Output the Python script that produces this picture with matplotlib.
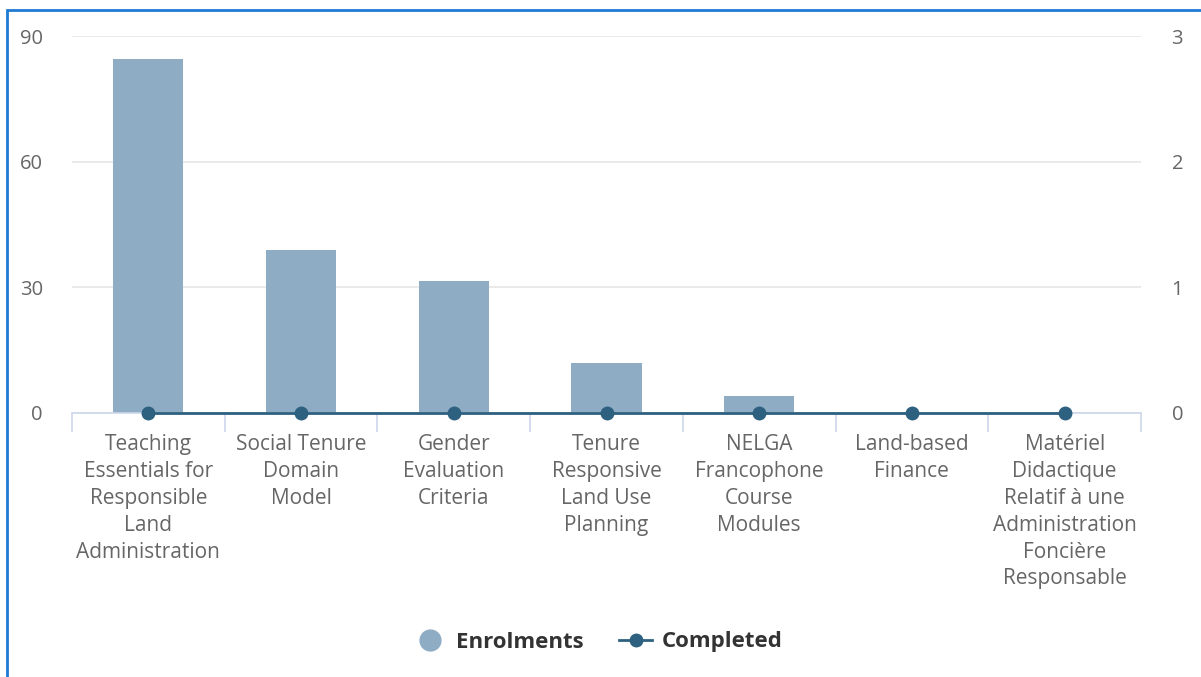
import numpy as np
import matplotlib.pyplot as plt
from matplotlib.lines import Line2D
from matplotlib.patches import Rectangle

# data
courses = ["Teaching\nEssentials for\nResponsible\nLand\nAdministration",
           "Social Tenure\nDomain\nModel",
           "Gender\nEvaluation\nCriteria",
           "Tenure\nResponsive\nLand Use\nPlanning",
           "NELGA\nFrancophone\nCourse\nModules",
           "Land-based\nFinance",
           "Matériel\nDidactique\nRelatif à une\nAdministration\nFoncière\nResponsable"]
enrolments = [84.5, 39, 31.5, 12, 4, 0, 0]
completed = [0, 0, 0, 0, 0, 0, 0]
left_ticks = [0, 30, 60, 90]
right_ticks = [0, 1, 2, 3]

bar_color = "#8eacc4"
line_color = "#2e6080"
label_color = "#666666"
grid_color = "#e6e6e6"
axis_color = "#ccd6eb"

plt.rcParams['font.family'] = ['Open Sans', 'DejaVu Sans']

fig = plt.figure(figsize=(12.01, 6.77), dpi=100)
W, H = 1201, 677
ax = fig.add_axes([72 / W, (H - 413) / H, (1141 - 72) / W, (413 - 36) / H])

x = np.arange(len(courses))
ax.bar(x, enrolments, width=0.46, color=bar_color, zorder=2)
ax.set_xlim(-0.5, len(courses) - 0.5)
ax.set_ylim(0, 90)
ax.set_yticks(left_ticks)
ax.yaxis.grid(True, color=grid_color, linewidth=1.2, zorder=0)
ax.tick_params(axis='y', length=0, pad=21, labelsize=14.5, labelcolor=label_color)

for s in ['top', 'right', 'left']:
    ax.spines[s].set_visible(False)
ax.spines['bottom'].set_color(axis_color)
ax.spines['bottom'].set_linewidth(1.2)

# category boundaries as ticks, labels at centres
ax.set_xticks(np.arange(len(courses) + 1) - 0.5)
ax.set_xticklabels([])
ax.tick_params(axis='x', which='major', length=14, color=axis_color, width=1.2)
ax.set_xticks(x, minor=True)
ax.set_xticklabels(courses, minor=True, fontsize=15, color=label_color, linespacing=1.37,
                   va='top')
ax.tick_params(axis='x', which='minor', length=0, pad=15)

ax2 = ax.twinx()
ax2.plot(x, completed, color=line_color, linewidth=2, marker='o', markersize=9,
         clip_on=False, zorder=5)
ax2.set_ylim(0, 3)
ax2.set_yticks(right_ticks)
ax2.tick_params(axis='y', length=0, pad=22, labelsize=14.5, labelcolor=label_color)
for s in ['top', 'right', 'left', 'bottom']:
    ax2.spines[s].set_visible(False)

handles = [Line2D([], [], linestyle='none', marker='o', markersize=15, color=bar_color),
           Line2D([], [], color=line_color, linewidth=2, marker='o', markersize=9)]
leg = fig.legend(handles, ["Enrolments", "Completed"], loc='center',
                 bbox_to_anchor=(598 / W, 1 - 642 / H), ncol=2, frameon=False,
                 prop={'weight': 'bold', 'size': 16}, handlelength=1.5,
                 columnspacing=1.6, handletextpad=0.4)
for t in leg.get_texts():
    t.set_color("#333333")

# blue frame around the chart
fig.patches.append(Rectangle((7 / W, -0.01), 1.2, 1 - 10 / H + 0.01, transform=fig.transFigure,
                             fill=False, edgecolor="#1f7ad1", linewidth=2))

fig.savefig("out.png", dpi=100)
